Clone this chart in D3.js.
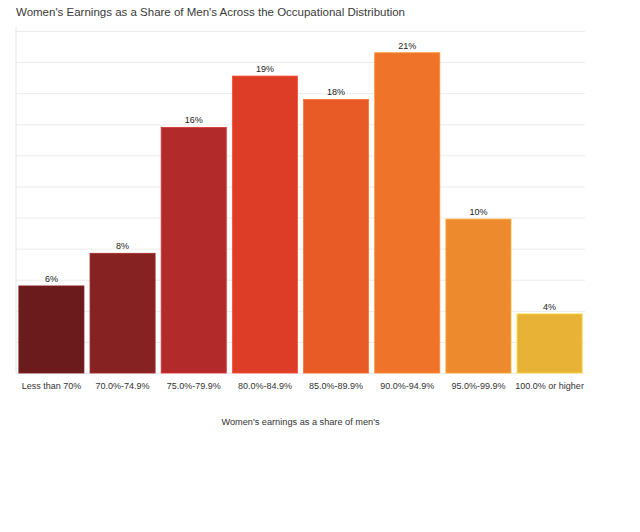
<!DOCTYPE html>
<html>
<head>
<meta charset="utf-8">
<script src="https://cdn.jsdelivr.net/npm/d3@7"></script>
<style>
  body { margin: 0; background: #fff; }
  text { font-family: "Liberation Sans", Arial, sans-serif; fill: #333; }
</style>
</head>
<body>
<script>
var categories = ["Less than 70%", "70.0%-74.9%", "75.0%-79.9%", "80.0%-84.9%",
                  "85.0%-89.9%", "90.0%-94.9%", "95.0%-99.9%", "100.0% or higher"];
var shares = [5.6, 7.7, 15.8, 19.1, 17.6, 20.6, 9.9, 3.8];
var barColors = ["#6b1b1b", "#872222", "#b32a2a", "#dd3c27", "#e85a26", "#ef7329", "#ee8a2e", "#e8b236"];
var yTicks = [0, 2, 4, 6, 8, 10, 12, 14, 16, 18, 20, 22];

var margin = {top: 31, right: 55, bottom: 159, left: 16},
    width = 640 - margin.left - margin.right,
    height = 532 - margin.top - margin.bottom;

var svg = d3.select("body").append("svg")
    .attr("width", 640)
    .attr("height", 532);

svg.append("text")
    .attr("x", 16)
    .attr("y", 16)
    .style("font-size", "11.5px")
    .style("fill", "#3a3a3a")
    .text("Women's Earnings as a Share of Men's Across the Occupational Distribution");

var g = svg.append("g")
    .attr("transform", "translate(" + margin.left + "," + margin.top + ")");

var xScale = d3.scaleBand()
    .domain(categories)
    .range([0, width])
    .paddingInner(0.085)
    .paddingOuter(0.04);

var yScale = d3.scaleLinear()
    .domain([0, 22])
    .range([height, 0]);

// grid
g.append("g")
    .attr("class", "grid")
    .call(d3.axisLeft(yScale).tickValues(yTicks).tickSize(-width).tickFormat(""))
    .call(function(s){
      s.select(".domain").remove();
      s.selectAll("line").attr("stroke", "#ececec");
    });

g.append("line")
    .attr("x1", 0).attr("x2", 0)
    .attr("y1", -4).attr("y2", height)
    .attr("stroke", "#e6e6e6");

g.selectAll("rect.bar")
    .data(shares)
    .enter()
    .append("rect")
    .attr("class", "bar")
    .attr("x", function(d, i){ return xScale(categories[i]); })
    .attr("y", function(d){ return yScale(d); })
    .attr("width", xScale.bandwidth())
    .attr("height", function(d){ return height - yScale(d); })
    .attr("fill", function(d, i){ return barColors[i]; })
    .attr("stroke", function(d, i){ return d3.color(barColors[i]).brighter(0.6); })
    .attr("stroke-width", 0.8);

g.selectAll("text.val")
    .data(shares)
    .enter()
    .append("text")
    .attr("class", "val")
    .attr("x", function(d, i){ return xScale(categories[i]) + xScale.bandwidth() / 2; })
    .attr("y", function(d){ return yScale(d) - 4; })
    .attr("text-anchor", "middle")
    .style("font-size", "9px")
    .style("fill", "#222")
    .text(function(d){ return Math.round(d) + "%"; });

var xAxis = g.append("g")
    .attr("transform", "translate(0," + height + ")")
    .call(d3.axisBottom(xScale).tickSize(0).tickPadding(10));

xAxis.select(".domain").remove();
xAxis.selectAll("text")
    .style("font-size", "9px")
    .style("font-family", "\"Liberation Sans\", Arial, sans-serif")
    .style("fill", "#333");

svg.append("text")
    .attr("x", margin.left + width / 2)
    .attr("y", 425)
    .attr("text-anchor", "middle")
    .style("font-size", "9.2px")
    .text("Women's earnings as a share of men's");
</script>
</body>
</html>
